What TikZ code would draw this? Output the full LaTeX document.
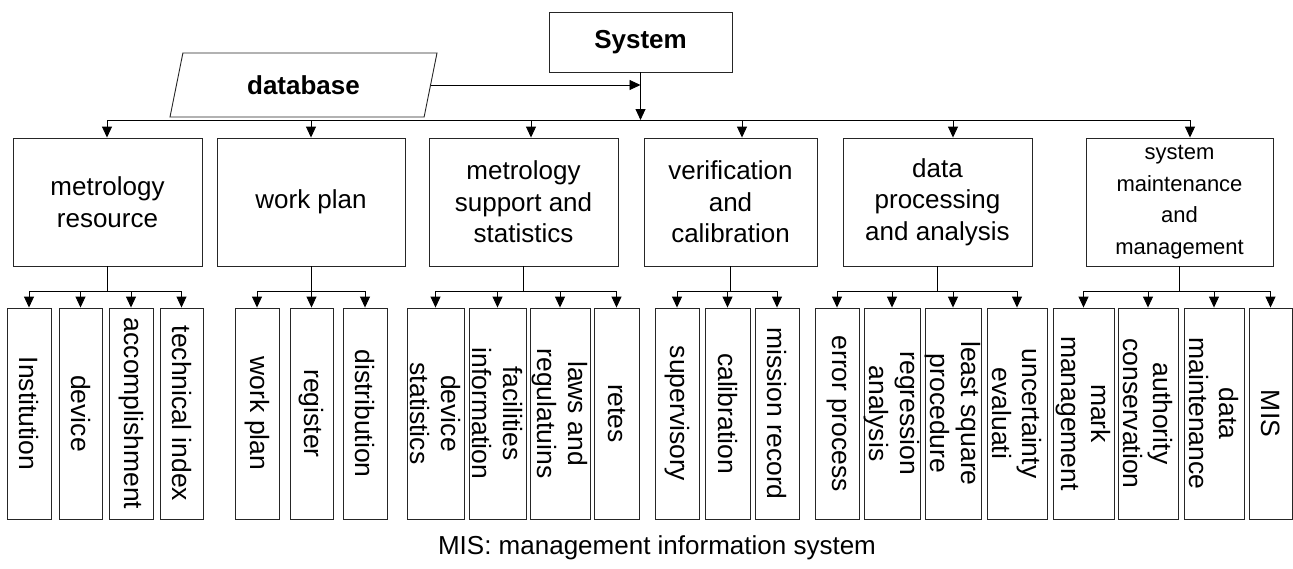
\documentclass[tikz,border=0pt]{standalone}
\usepackage{fontspec}
\setmainfont{Liberation Sans}
\usetikzlibrary{arrows.meta,shapes.geometric}

\begin{document}
\begin{tikzpicture}[x=1pt,y=-1pt]

\tikzset{
  box/.style      = {draw=black!85, line width=0.9pt, align=center, inner sep=0pt,
                     font=\fontsize{26}{31.5}\selectfont, minimum height=128},
  leaf/.style     = {draw=black!85, line width=0.9pt, inner sep=0pt, minimum height=211},
  leaftext/.style = {rotate=-90, align=center, inner sep=0pt,
                     font=\fontsize{26.5}{30.5}\selectfont},
  arr/.style      = {line width=0.9pt, -{Triangle[length=11pt,width=10pt]}},
}

\useasboundingbox (0,0) rectangle (1293,568);

%% ---------- system and database ----------
\node[draw=black!85, line width=0.9pt, minimum width=183, minimum height=60,
      font=\fontsize{26}{30}\selectfont\bfseries] (system) at (640.5,42) {System};
\node[trapezium, trapezium left angle=63.4, trapezium right angle=116.6,
      trapezium stretches body, draw=black!85, line width=0.9pt,
      minimum width=267, minimum height=64,
      font=\fontsize{26}{30}\selectfont\bfseries] (database) at (303.5,85) {database};

\coordinate (bus1) at (107,120);
\coordinate (bus2) at (311,120);
\coordinate (bus3) at (531,120);
\coordinate (bus4) at (742,120);
\coordinate (bus5) at (953,120);
\coordinate (bus6) at (1190,120);

%% ---------- modules ----------
\node[box, minimum width=189] (resource) at (107.5,202) {metrology\\resource};
\node[box, minimum width=188] (plan)     at (311,202)   {work plan};
\node[box, minimum width=189] (support)  at (523.5,202) {metrology\\support and\\statistics};
\node[box, minimum width=173] (verify)   at (730.5,202) {verification\\and\\calibration};
\node[box, minimum width=189] (process)  at (937.5,202) {data\\processing\\and analysis};
\node[box, minimum width=187, font=\fontsize{22}{31.5}\selectfont]
      (maintain) at (1179.5,202) {system\\maintenance\\and\\management};

%% ---------- functions ----------
\node[leaf, minimum width=44, label={[leaftext]center:Institution}]     (institution) at (29,413.5)   {};
\node[leaf, minimum width=43, label={[leaftext]center:device}]          (device)      at (80.5,413.5) {};
\node[leaf, minimum width=44, label={[leaftext]center:accomplishment}]  (accomplish)  at (131,413.5)  {};
\node[leaf, minimum width=43, label={[leaftext]center:technical index}] (techindex)   at (181.5,413.5) {};

\node[leaf, minimum width=44, label={[leaftext]center:work plan}]    (workplan)   at (257,413.5)   {};
\node[leaf, minimum width=43, label={[leaftext]center:register}]     (register)   at (311.5,413.5) {};
\node[leaf, minimum width=44, label={[leaftext]center:distribution}] (distribute) at (365,413.5)   {};

\node[leaf, minimum width=57, label={[leaftext]center:{device\\statistics}}]    (devstat)  at (435.5,413.5) {};
\node[leaf, minimum width=57, label={[leaftext]center:{facilities\\information}}] (facility) at (497.5,413.5) {};
\node[leaf, minimum width=60, label={[leaftext]center:{laws and\\regulatuins}}] (laws)     at (560,413.5)   {};
\node[leaf, minimum width=45, label={[leaftext]center:retes}]                   (retes)    at (616.5,413.5) {};

\node[leaf, minimum width=44, label={[leaftext]center:supervisory}]    (supervise) at (677,413.5)   {};
\node[leaf, minimum width=45, label={[leaftext]center:calibration}]    (calibrate) at (727.5,413.5) {};
\node[leaf, minimum width=44, label={[leaftext]center:mission record}] (mission)   at (777,413.5)   {};

\node[leaf, minimum width=44, label={[leaftext]center:error process}]              (error)       at (837,413.5)  {};
\node[leaf, minimum width=56, label={[leaftext]center:{regression\\analysis}}]     (regression)  at (892,413.5)  {};
\node[leaf, minimum width=56, label={[leaftext]center:{least square\\procedure}}]  (leastsq)     at (953,413.5)  {};
\node[leaf, minimum width=60, label={[leaftext]center:{uncertainty\\evaluati}}]    (uncertainty) at (1017,413.5) {};

\node[leaf, minimum width=61, label={[leaftext]center:{mark\\management}}]       (mark)      at (1083.5,413.5) {};
\node[leaf, minimum width=60, label={[leaftext]center:{authority\\conservation}}] (authority) at (1148,413.5)   {};
\node[leaf, minimum width=60, label={[leaftext]center:{data\\maintenance}}]       (datamaint) at (1214,413.5)   {};
\node[leaf, minimum width=43, label={[leaftext]center:MIS}]                      (mis)       at (1270.5,413.5) {};

\node[font=\fontsize{26}{30}\selectfont] (caption) at (657,548) {MIS: management information system};

%% ---------- connectors ----------
\draw[arr] (system.south) -- (system.south |- bus1);
\draw[arr] (database.east) -- (database.east -| system.south);
\draw[line width=0.9pt] (bus1) -- (bus6);
\foreach \b/\n in {bus1/resource, bus2/plan, bus3/support, bus4/verify, bus5/process, bus6/maintain}
  \draw[arr] (\b) -- (\b |- \n.north);

\foreach \n in {institution, device, accomplish, techindex}
  \draw[arr] (resource.south) -- ++(0,25) -| (\n.north);
\foreach \n in {workplan, register, distribute}
  \draw[arr] (plan.south) -- ++(0,25) -| (\n.north);
\foreach \n in {devstat, facility, laws, retes}
  \draw[arr] (support.south) -- ++(0,25) -| (\n.north);
\foreach \n in {supervise, calibrate, mission}
  \draw[arr] (verify.south) -- ++(0,25) -| (\n.north);
\foreach \n in {error, regression, leastsq, uncertainty}
  \draw[arr] (process.south) -- ++(0,25) -| (\n.north);
\foreach \n in {mark, authority, datamaint, mis}
  \draw[arr] (maintain.south) -- ++(0,25) -| (\n.north);

\end{tikzpicture}
\end{document}
